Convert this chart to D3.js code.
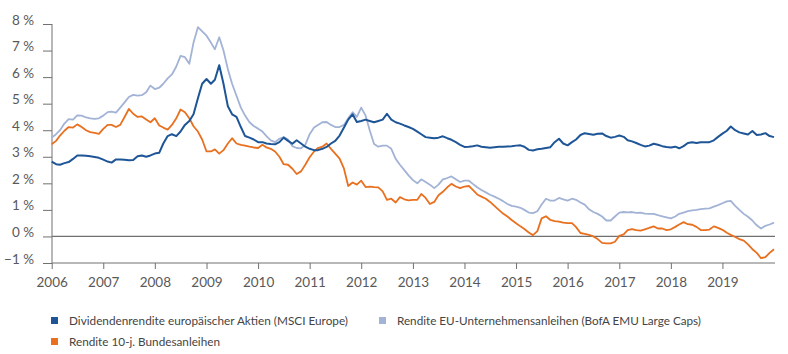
<!DOCTYPE html>
<html><head><meta charset="utf-8">
<script src="https://cdn.jsdelivr.net/npm/d3@7"></script>
<style>
html,body{margin:0;padding:0;background:#fff;}
svg{display:block;}
</style></head>
<body>
<svg id="chart" width="788" height="354"></svg>
<script>
// Monthly observations, Jan 2006 .. Jan 2020
const startYear = 2006;
const yearTicks = [2006,2007,2008,2009,2010,2011,2012,2013,2014,2015,2016,2017,2018,2019];
const yTicks = [-1,0,1,2,3,4,5,6,7,8];
const seriesNames = [
  "Dividendenrendite europäischer Aktien (MSCI Europe)",
  "Rendite EU-Unternehmensanleihen (BofA EMU Large Caps)",
  "Rendite 10-j. Bundesanleihen"
];
const dividend = [
 2.82,2.72,2.70,2.76,2.80,2.92,3.05,3.05,3.04,3.02,2.99,2.96,
 2.89,2.82,2.78,2.90,2.90,2.89,2.87,2.88,3.02,3.05,3.00,3.05,
 3.12,3.15,3.50,3.78,3.85,3.78,3.95,4.20,4.35,4.60,5.20,5.75,
 5.93,5.75,5.90,6.45,5.75,4.90,4.60,4.50,4.12,3.78,3.72,3.65,
 3.55,3.55,3.50,3.48,3.47,3.55,3.72,3.60,3.49,3.62,3.50,3.38,
 3.30,3.25,3.25,3.30,3.37,3.50,3.60,3.80,4.10,4.40,4.60,4.31,
 4.35,4.40,4.35,4.30,4.35,4.40,4.62,4.40,4.30,4.25,4.18,4.12,
 4.05,3.95,3.85,3.74,3.72,3.70,3.72,3.77,3.70,3.64,3.55,3.45,
 3.37,3.38,3.40,3.43,3.38,3.36,3.34,3.36,3.38,3.38,3.39,3.40,
 3.42,3.43,3.38,3.26,3.24,3.28,3.30,3.33,3.36,3.55,3.68,3.50,
 3.43,3.55,3.65,3.82,3.89,3.86,3.83,3.87,3.88,3.78,3.72,3.75,
 3.80,3.75,3.62,3.58,3.52,3.45,3.39,3.42,3.49,3.45,3.40,3.37,
 3.35,3.38,3.32,3.40,3.52,3.55,3.52,3.55,3.55,3.55,3.62,3.75,
 3.87,3.98,4.14,4.00,3.92,3.88,3.84,3.97,3.82,3.84,3.89,3.78,
 3.74
];
const corporate = [
 3.72,3.85,4.00,4.25,4.42,4.40,4.56,4.55,4.48,4.45,4.43,4.45,
 4.55,4.68,4.70,4.66,4.85,5.05,5.25,5.33,5.30,5.32,5.43,5.68,
 5.55,5.60,5.75,5.95,6.10,6.40,6.80,6.75,6.50,7.30,7.88,7.72,
 7.56,7.30,7.05,7.50,7.00,6.30,5.75,5.30,4.85,4.55,4.30,4.16,
 4.06,3.95,3.78,3.62,3.55,3.68,3.74,3.65,3.40,3.33,3.32,3.45,
 3.85,4.10,4.20,4.30,4.31,4.20,4.12,4.12,4.20,4.45,4.68,4.50,
 4.85,4.55,4.00,3.48,3.38,3.42,3.42,3.30,2.92,2.70,2.50,2.30,
 2.12,2.00,2.15,2.05,1.95,1.82,1.95,2.15,2.20,2.26,2.15,2.05,
 2.10,2.10,1.98,1.85,1.75,1.66,1.57,1.50,1.42,1.33,1.22,1.15,
 1.12,1.08,1.00,0.90,0.88,0.95,1.20,1.42,1.35,1.35,1.45,1.40,
 1.35,1.42,1.38,1.28,1.20,1.02,0.92,0.85,0.75,0.60,0.60,0.75,
 0.90,0.92,0.91,0.92,0.89,0.90,0.86,0.85,0.85,0.80,0.76,0.72,
 0.68,0.75,0.85,0.90,0.95,0.98,1.00,1.03,1.05,1.06,1.12,1.18,
 1.25,1.32,1.34,1.15,1.00,0.85,0.74,0.60,0.42,0.30,0.40,0.45,
 0.52
];
const bund = [
 3.47,3.60,3.80,3.98,4.12,4.10,4.22,4.12,4.00,3.93,3.90,3.86,
 4.05,4.20,4.20,4.12,4.20,4.50,4.80,4.62,4.50,4.52,4.40,4.30,
 4.45,4.18,4.10,4.02,4.20,4.45,4.78,4.68,4.45,4.15,3.95,3.65,
 3.20,3.20,3.28,3.12,3.25,3.50,3.70,3.50,3.45,3.42,3.38,3.35,
 3.33,3.45,3.35,3.30,3.20,3.00,2.72,2.70,2.55,2.35,2.45,2.70,
 2.98,3.20,3.33,3.38,3.50,3.30,3.12,2.93,2.55,1.90,2.03,1.95,
 2.10,1.86,1.88,1.86,1.85,1.70,1.38,1.42,1.28,1.48,1.40,1.36,
 1.38,1.38,1.60,1.45,1.22,1.30,1.55,1.68,1.85,1.98,1.88,1.82,
 1.88,1.90,1.75,1.58,1.50,1.42,1.30,1.15,1.00,0.86,0.75,0.62,
 0.50,0.38,0.28,0.15,0.05,0.20,0.68,0.76,0.62,0.58,0.56,0.52,
 0.50,0.50,0.35,0.13,0.10,0.06,0.00,-0.10,-0.24,-0.26,-0.26,-0.20,
 0.02,0.08,0.24,0.28,0.24,0.22,0.27,0.32,0.38,0.30,0.30,0.24,
 0.27,0.36,0.45,0.54,0.46,0.44,0.36,0.24,0.24,0.26,0.38,0.32,
 0.25,0.14,0.06,-0.02,-0.10,-0.16,-0.30,-0.48,-0.62,-0.82,-0.78,-0.62,
 -0.48
];
const colors = ["#1d5597","#a2b3d6","#e8701f"];

const svg = d3.select("#chart");
const x = d3.scaleTime()
  .domain([new Date(startYear,0,1), new Date(2020,0,1)])
  .range([51.7, 774]);
const y = d3.scaleLinear().domain([-1, 8]).range([263, 24]);
const dateOf = i => new Date(startYear, i, 1);

const axisColor = "#707070";
const textColor = "#595959";
const font = "Lato, 'Open Sans', sans-serif";

// y axis
const yAxis = svg.append("g").attr("transform","translate(52,0)")
  .call(d3.axisLeft(y).tickValues(yTicks).tickSize(9).tickFormat(d => (d<0?"\u2212"+Math.abs(d):d)+" %"));
yAxis.select(".domain").attr("stroke", axisColor).attr("d","M0,24V263");
yAxis.selectAll(".tick line").attr("stroke", axisColor);
yAxis.selectAll(".tick text").attr("fill", textColor).attr("font-family", font)
  .attr("font-size", 13.5).attr("x", -18).attr("dy", "0");

// zero line
svg.append("line").attr("x1",52).attr("x2",775).attr("y1",y(0)).attr("y2",y(0))
  .attr("stroke", axisColor).attr("stroke-width",1.2);

// x axis
const xAxis = svg.append("g").attr("transform",`translate(0,${y(-1)})`)
  .call(d3.axisBottom(x).tickValues(yearTicks.map(v=>new Date(v,0,1))).tickSize(6).tickSizeOuter(0).tickFormat(d3.timeFormat("%Y")));
xAxis.select(".domain").attr("stroke", axisColor).attr("d","M52,0H775");
xAxis.selectAll(".tick line").attr("stroke", axisColor);
xAxis.selectAll(".tick text").attr("fill", textColor).attr("font-family", font)
  .attr("font-size", 13.5).attr("y", 14).attr("dy","0.71em");

// lines
const line = d3.line().x((d,i)=>x(dateOf(i))).y(d=>y(d)).curve(d3.curveLinear);
[[corporate,1,1.8],[bund,2,1.8],[dividend,0,2]].forEach(([data,ci,w])=>{
  svg.append("path").datum(data).attr("d", line).attr("fill","none")
    .attr("stroke", colors[ci]).attr("stroke-width", w).attr("stroke-linejoin","round");
});

// legend
const legend = [
  {name: seriesNames[0], c: colors[0], lx: 51, ly: 317, tw: 279},
  {name: seriesNames[1], c: colors[1], lx: 379, ly: 317, tw: 304},
  {name: seriesNames[2], c: colors[2], lx: 51, ly: 338, tw: 151}
];
legend.forEach(l=>{
  svg.append("rect").attr("x", l.lx).attr("y", l.ly).attr("width",7).attr("height",7).attr("fill", l.c);
  svg.append("text").attr("x", l.lx+18).attr("y", l.ly+7.5).text(l.name)
    .attr("font-family", font).attr("font-size", 12).attr("fill", "#444")
    .attr("textLength", l.tw).attr("lengthAdjust","spacingAndGlyphs");
});
</script>
</body></html>
